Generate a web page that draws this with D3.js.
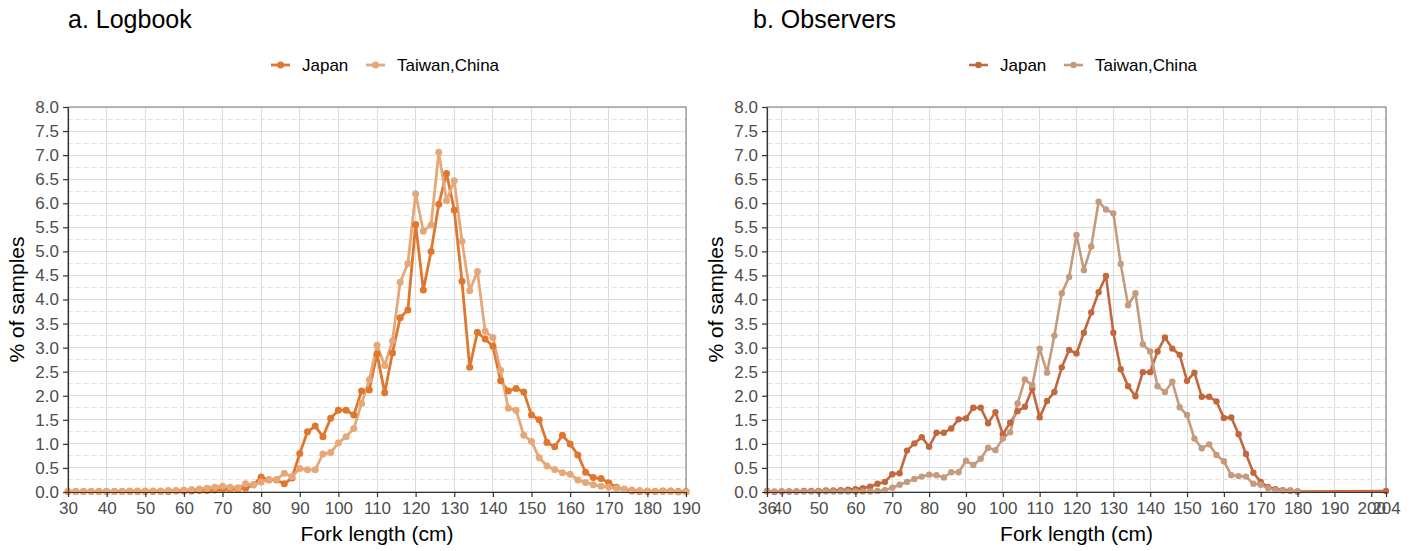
<!DOCTYPE html>
<html>
<head>
  <meta charset="UTF-8">
  <title>Fork length frequencies</title>
  <script src="https://cdn.jsdelivr.net/npm/d3@7"></script>
  <style>
    body { margin: 0; background: #fff; }
    svg { font-family: "Liberation Sans", Arial, sans-serif; }
    .grid-major { stroke: #dcdcdc; stroke-width: 1; shape-rendering: crispEdges; }
    .grid-minor { stroke: #e4e4e4; stroke-width: 1; stroke-dasharray: 5,3; shape-rendering: crispEdges; }
    .axis path, .axis line { stroke: #333; stroke-width: 1.2; }
    .axis text { fill: #4d4d4d; font-size: 17px; }
    .frame { fill: none; stroke: #8c8c8c; stroke-width: 1.2; }
    .line { fill: none; stroke-linejoin: round; }
  </style>
</head>
<body>
<div id="chart"></div>
<script>
  // ---- data (2 cm bins) ----
  var logLengths = [30,32,34,36,38,40,42,44,46,48,50,52,54,56,58,60,62,64,66,68,70,72,74,76,78,80,82,84,86,88,
    90,92,94,96,98,100,102,104,106,108,110,112,114,116,118,120,122,124,126,128,130,132,134,136,138,140,142,144,146,148,
    150,152,154,156,158,160,162,164,166,168,170,172,174,176,178,180,182,184,186,188,190];
  var logJapan = [0.01,0.01,0.01,0.01,0.01,0.01,0.01,0.01,0.01,0.01,
    0.01,0.01,0.01,0.01,0.02,0.02,0.02,0.03,0.03,0.04,
    0.05,0.06,0.06,0.08,0.15,0.31,0.25,0.25,0.17,0.29,
    0.80,1.25,1.37,1.15,1.53,1.70,1.70,1.60,2.10,2.12,
    2.87,2.06,2.89,3.62,3.78,5.56,4.20,5.00,5.98,6.62,
    5.86,4.38,2.59,3.32,3.18,3.03,2.31,2.10,2.15,2.08,
    1.60,1.50,1.03,0.94,1.18,1.00,0.77,0.41,0.30,0.28,
    0.19,0.10,0.05,0.02,0.01,0.01,0.01,0.02,0.02,0.01,
    0.01];
  var logTaiwan = [0.01,0.01,0.01,0.01,0.01,0.01,0.01,0.01,0.02,0.02,
    0.02,0.02,0.02,0.03,0.03,0.04,0.05,0.06,0.08,0.10,
    0.12,0.10,0.09,0.17,0.15,0.21,0.26,0.26,0.39,0.32,
    0.49,0.46,0.46,0.79,0.82,1.02,1.15,1.32,1.84,2.33,
    3.05,2.63,3.14,4.36,4.75,6.20,5.42,5.55,7.06,6.05,
    6.47,5.21,4.18,4.58,3.34,3.21,2.53,1.74,1.70,1.18,
    1.05,0.71,0.54,0.47,0.40,0.37,0.25,0.20,0.15,0.12,
    0.10,0.08,0.06,0.04,0.03,0.02,0.01,0.01,0.01,0.00,
    0.00];

  var obsLengths = [36,38,40,42,44,46,48,50,52,54,56,58,60,62,64,66,68,70,72,74,76,78,80,82,84,86,88,
    90,92,94,96,98,100,102,104,106,108,110,112,114,116,118,120,122,124,126,128,130,132,134,136,138,140,142,144,146,148,
    150,152,154,156,158,160,162,164,166,168,170,172,174,176,178,180,182,184,186,188,190,192,194,196,198,200,202,204];
  var obsJapan = [0.02,0.00,0.01,0.01,0.01,0.02,0.02,0.02,0.03,0.03,
    0.04,0.05,0.06,0.08,0.11,0.17,0.21,0.37,0.39,0.86,
    1.01,1.14,0.94,1.23,1.23,1.32,1.51,1.53,1.75,1.75,
    1.43,1.66,1.20,1.44,1.68,1.77,2.15,1.55,1.89,2.08,
    2.59,2.95,2.88,3.31,3.73,4.15,4.49,3.31,2.55,2.20,
    1.99,2.49,2.49,2.92,3.21,2.98,2.85,2.31,2.48,1.98,
    1.98,1.88,1.54,1.55,1.20,0.79,0.40,0.21,0.10,0.06,
    0.04,0.03,0.01,null,null,null,null,null,null,null,
    null,null,null,null,0.02];
  var obsTaiwan = [0.01,0.01,0.01,0.01,0.01,0.01,0.01,0.01,0.01,0.01,
    0.01,0.01,0.01,0.01,0.01,0.02,0.04,0.09,0.15,0.21,
    0.27,0.32,0.36,0.35,0.30,0.41,0.41,0.65,0.56,0.69,
    0.92,0.87,1.11,1.24,1.84,2.34,2.22,2.98,2.48,3.25,
    4.13,4.47,5.34,4.61,5.10,6.03,5.87,5.79,4.74,3.88,
    4.13,3.07,2.92,2.20,2.08,2.29,1.76,1.60,1.11,0.91,
    0.99,0.77,0.64,0.35,0.33,0.32,0.17,0.15,0.08,0.04,
    0.03,0.02,0.01,null,null,null,null,null,null,null,
    null,null,null,null,null];

  var yTicks = [0,0.5,1,1.5,2,2.5,3,3.5,4,4.5,5,5.5,6,6.5,7,7.5,8];
  var yMinor = [0.25,0.75,1.25,1.75,2.25,2.75,3.25,3.75,4.25,4.75,5.25,5.75,6.25,6.75,7.25,7.75];
  var logXTicks = [30,40,50,60,70,80,90,100,110,120,130,140,150,160,170,180,190];
  var obsXTicks = [36,40,50,60,70,80,90,100,110,120,130,140,150,160,170,180,190,200,204];
  var seriesNames = ["Japan", "Taiwan,China"];

  // ---- layout ----
  var width = 1414, height = 551;
  var plotTop = 107, plotBottom = 492;

  var svg = d3.select("#chart").append("svg")
    .attr("width", width)
    .attr("height", height);

  var y = d3.scaleLinear().domain([0, 8]).range([plotBottom, plotTop]);

  var panels = [
    { title: "a. Logbook", titleX: 68, left: 68, right: 686, domain: [30, 190], ticks: logXTicks,
      lengths: logLengths, series: [logJapan, logTaiwan], colors: ["#e0772f", "#e6a878"],
      radius: 3.5, lineWidth: 2.8, legendX: 271 },
    { title: "b. Observers", titleX: 753, left: 767, right: 1386, domain: [36, 204], ticks: obsXTicks,
      lengths: obsLengths, series: [obsJapan, obsTaiwan], colors: ["#c2683e", "#c59b7d"],
      radius: 3.2, lineWidth: 2.6, legendX: 969 }
  ];

  panels.forEach(function (p) {
    var x = d3.scaleLinear().domain(p.domain).range([p.left, p.right]);
    var g = svg.append("g");

    // grid
    g.selectAll(".grid-minor").data(yMinor).enter().append("line")
      .attr("class", "grid-minor")
      .attr("x1", p.left).attr("x2", p.right)
      .attr("y1", function (d) { return y(d); }).attr("y2", function (d) { return y(d); });
    g.selectAll(".grid-major.h").data(yTicks).enter().append("line")
      .attr("class", "grid-major h")
      .attr("x1", p.left).attr("x2", p.right)
      .attr("y1", function (d) { return y(d); }).attr("y2", function (d) { return y(d); });
    g.selectAll(".grid-major.v").data(p.ticks).enter().append("line")
      .attr("class", "grid-major v")
      .attr("x1", function (d) { return x(d); }).attr("x2", function (d) { return x(d); })
      .attr("y1", plotTop).attr("y2", plotBottom);

    g.append("rect").attr("class", "frame")
      .attr("x", p.left).attr("y", plotTop)
      .attr("width", p.right - p.left).attr("height", plotBottom - plotTop);

    // lines then points (ggplot layer order)
    var line = d3.line()
      .x(function (d) { return x(d.len); })
      .y(function (d) { return y(d.val); });

    var data = p.series.map(function (vals) {
      return vals.map(function (v, j) { return { len: p.lengths[j], val: v }; })
        .filter(function (d) { return d.val !== null; });
    });

    g.selectAll(".line").data(data).enter().append("path")
      .attr("class", "line")
      .attr("d", line)
      .attr("stroke", function (d, i) { return p.colors[i]; })
      .attr("stroke-width", p.lineWidth);

    data.forEach(function (pts, i) {
      g.append("g").selectAll("circle").data(pts).enter().append("circle")
        .attr("cx", function (d) { return x(d.len); })
        .attr("cy", function (d) { return y(d.val); })
        .attr("r", p.radius)
        .attr("fill", p.colors[i]);
    });

    // axes
    g.append("g").attr("class", "axis")
      .attr("transform", "translate(0," + plotBottom + ")")
      .call(d3.axisBottom(x).tickValues(p.ticks).tickFormat(d3.format("d")).tickSizeInner(5).tickSizeOuter(0).tickPadding(5));
    g.append("g").attr("class", "axis")
      .attr("transform", "translate(" + p.left + ",0)")
      .call(d3.axisLeft(y).tickValues(yTicks).tickFormat(d3.format(".1f")).tickSizeInner(5).tickSizeOuter(0).tickPadding(4));

    // titles
    svg.append("text")
      .attr("x", p.titleX).attr("y", 28)
      .attr("font-size", 25)
      .attr("fill", "#000")
      .text(p.title);

    svg.append("text")
      .attr("x", (p.left + p.right) / 2).attr("y", 541)
      .attr("text-anchor", "middle")
      .attr("font-size", 21)
      .attr("fill", "#000")
      .text("Fork length (cm)");

    svg.append("text")
      .attr("transform", "translate(" + (p.left - 44) + "," + ((plotTop + plotBottom) / 2) + ") rotate(-90)")
      .attr("text-anchor", "middle")
      .attr("font-size", 21)
      .attr("fill", "#000")
      .text("% of samples");

    // legend
    var legend = svg.append("g").attr("transform", "translate(" + p.legendX + ",65)");
    var offsets = [0, 95];
    seriesNames.forEach(function (name, i) {
      var item = legend.append("g").attr("transform", "translate(" + offsets[i] + ",0)");
      item.append("line")
        .attr("x1", 0).attr("x2", 19).attr("y1", 0).attr("y2", 0)
        .attr("stroke", p.colors[i]).attr("stroke-width", p.lineWidth);
      item.append("circle")
        .attr("cx", 9.5).attr("cy", 0).attr("r", p.radius)
        .attr("fill", p.colors[i]);
      item.append("text")
        .attr("x", 31).attr("y", 6)
        .attr("font-size", 17)
        .attr("fill", "#000")
        .text(name);
    });
  });
</script>
</body>
</html>
